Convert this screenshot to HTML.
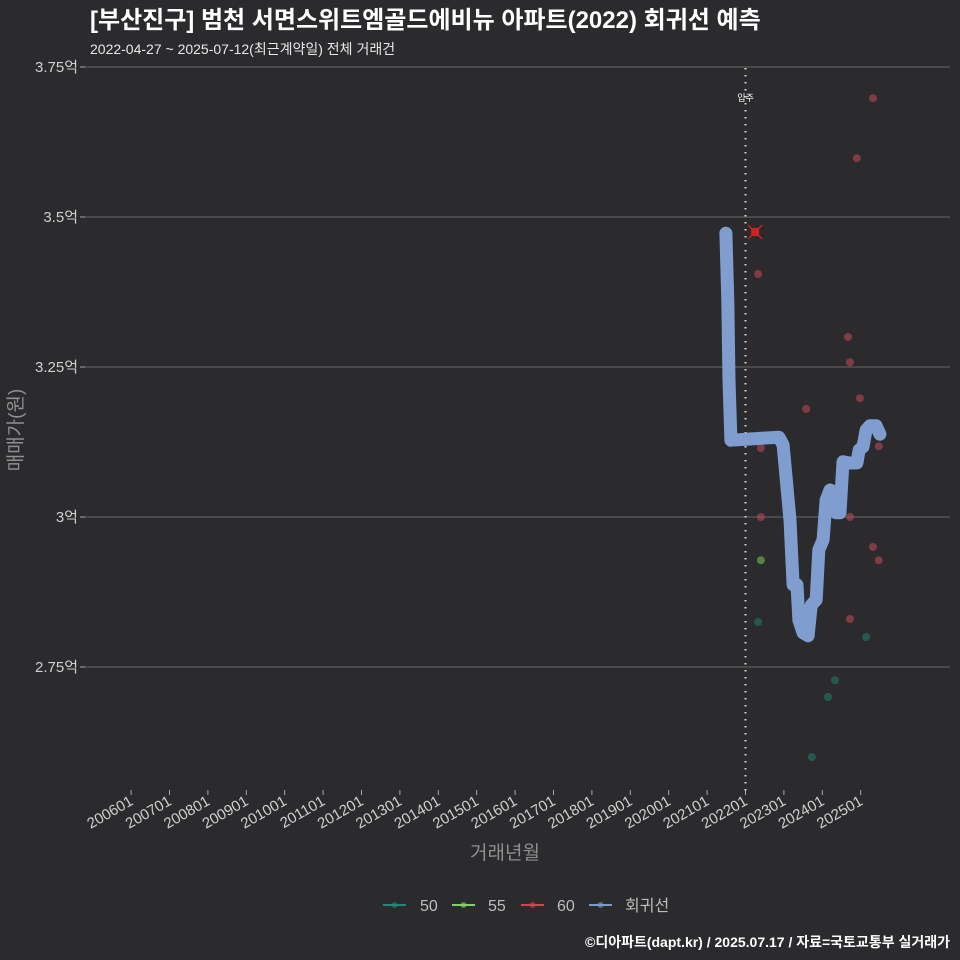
<!DOCTYPE html>
<html><head><meta charset="utf-8">
<style>
html,body{margin:0;padding:0;background:#2b2a2c;}
svg{display:block;font-family:"Liberation Sans","Noto Sans CJK KR",sans-serif;}
</style></head>
<body>
<svg id="chart" width="960" height="960" viewBox="0 0 960 960">
<rect width="960" height="960" fill="#2b2a2c"/>
<text x="90" y="28" fill="#ffffff" font-size="24" font-weight="bold">[부산진구] 범천 서면스위트엠골드에비뉴 아파트(2022) 회귀선 예측</text>
<text x="90" y="54" fill="#e8e8e8" font-size="14">2022-04-27 ~ 2025-07-12(최근계약일) 전체 거래건</text>
<g id="grid"></g>
<g id="xaxis"></g>
<g id="marks"></g>
<text transform="translate(22,430) rotate(-90)" text-anchor="middle" fill="#8f8f8f" font-size="19">매매가(원)</text>
<text x="505" y="859" text-anchor="middle" fill="#8f8f8f" font-size="19">거래년월</text>
<g id="legend"></g>
<text x="950" y="947" text-anchor="end" fill="#ffffff" font-size="14" font-weight="bold">©디아파트(dapt.kr) / 2025.07.17 / 자료=국토교통부 실거래가</text>
</svg>
<script>
const yTicks = [2.75, 3.0, 3.25, 3.5, 3.75];
const yTickLabels = ["2.75억", "3억", "3.25억", "3.5억", "3.75억"];
const xTickYears = [2006,2007,2008,2009,2010,2011,2012,2013,2014,2015,2016,2017,2018,2019,2020,2021,2022,2023,2024,2025];
const xTickLabels = ["200601","200701","200801","200901","201001","201101","201201","201301","201401","201501","201601","201701","201801","201901","202001","202101","202201","202301","202401","202501"];
const moveInYear = 2022.0;
const regT = [2021.49,2021.54,2021.57,2021.62,2022.87,2022.98,2023.16,2023.24,2023.34,2023.39,2023.50,2023.63,2023.71,2023.84,2023.91,2024.02,2024.10,2024.20,2024.30,2024.36,2024.46,2024.54,2024.70,2024.90,2024.96,2025.06,2025.14,2025.24,2025.40,2025.50];
const regV = [3.473,3.362,3.228,3.128,3.133,3.12,2.995,2.887,2.887,2.828,2.807,2.802,2.853,2.862,2.945,2.962,3.028,3.045,3.042,3.007,3.007,3.092,3.09,3.09,3.112,3.117,3.145,3.152,3.152,3.138];
const t60 = [2022.33,2022.40,2022.40,2023.58,2024.67,2024.72,2024.98,2024.90,2025.32,2024.72,2025.32,2025.47,2025.47,2024.72];
const v60 = [3.405,3.115,3.0,3.18,3.3,3.258,3.198,3.598,3.698,3.0,2.95,2.928,3.118,2.83];
const t55 = [2022.40];
const v55 = [2.928];
const t50 = [2022.33,2025.14,2024.15,2024.33,2023.73];
const v50 = [2.825,2.8,2.7,2.728,2.6];
const maxT = 2022.25, maxV = 3.475;

const NS = "http://www.w3.org/2000/svg";
function sx(t){ return 745.5 + (t - 2022) * 38.4; }
function sy(v){ return 517 - (v - 3) * 600; }
function mk(tag, attrs, parent){ const e=document.createElementNS(NS,tag); for(const k in attrs) e.setAttribute(k,attrs[k]); parent.appendChild(e); return e; }

const grid=document.getElementById('grid');
yTicks.forEach((v,i)=>{
  const l=mk('line',{x1:85,x2:950,y1:sy(v),y2:sy(v),stroke:'#5c5c5c','stroke-width':1.2},grid);
  
  
  const tk=mk('line',{x1:80,x2:85,y1:sy(v),y2:sy(v),stroke:'#aaa','stroke-width':1},grid);
  
  
  const tx=mk('text',{x:78,y:sy(v)+5,'text-anchor':'end',fill:'#d0d0d0','font-size':15},grid);
  tx.textContent=yTickLabels[i];
  
  
});
const xa=document.getElementById('xaxis');
xTickYears.forEach((y,i)=>{
  const x=sx(y);
  const tk=mk('line',{x1:x,x2:x,y1:790,y2:795,stroke:'#aaa','stroke-width':1},xa);
  
  
  const tx=mk('text',{transform:`translate(${x+3},${804}) rotate(-30)`,'text-anchor':'end',fill:'#d0d0d0','font-size':15},xa);
  tx.textContent=xTickLabels[i];
  
  
});
const mg=document.getElementById('marks');
const mv=mk('line',{x1:sx(moveInYear),x2:sx(moveInYear),y1:68,y2:792,stroke:'#d8d8d8','stroke-width':2,'stroke-dasharray':'1.5 5.5'},mg);


const mt=mk('text',{x:sx(moveInYear),y:101,'text-anchor':'middle',fill:'#fff','font-size':9},mg);
mt.textContent='입주';


function pts(ts,vs,color,name){
  ts.forEach((t,i)=>{
    const c=mk('circle',{cx:sx(t),cy:sy(vs[i]),r:4,fill:color,'fill-opacity':0.6},mg);
    
    
  });
}
pts(t50,v50,'#1f7a68','point-50');
pts(t55,v55,'#6fbf5a','point-55');
pts(t60,v60,'#b84a55','point-60');
const d=regT.map((t,i)=>(i?'L':'M')+sx(t).toFixed(1)+','+sy(regV[i]).toFixed(1)).join(' ');
const rp=mk('path',{d:d,fill:'none',stroke:'#7f9ecf','stroke-width':13,'stroke-linejoin':'round','stroke-linecap':'round'},mg);


const mx=sx(maxT), my=sy(maxV);
const xm=mk('g',{},mg);


mk('path',{d:`M${mx-7},${my-7}L${mx+7},${my+7}M${mx+7},${my-7}L${mx-7},${my+7}`,stroke:'#cc2222','stroke-width':1.5},xm);
mk('rect',{x:mx-4,y:my-4,width:8,height:8,fill:'#cc2222'},xm);

const lg=document.getElementById('legend');
const items=[['50','#1f8a7a',383,420],['55','#7ed36a',452,488],['60','#d0454f',521,557],['회귀선','#7b9bcf',589,625]];
items.forEach(it=>{
  const g=mk('g',{},lg);
  
  
  mk('line',{x1:it[2],x2:it[2]+23,y1:905,y2:905,stroke:it[1],'stroke-width':2},g);
  mk('circle',{cx:it[2]+11.5,cy:905,r:3,fill:it[1],'fill-opacity':0.6},g);
  const t=mk('text',{x:it[3],y:911,fill:'#bdbdbd','font-size':16},g);
  t.textContent=it[0];
});
</script>
</body></html>
